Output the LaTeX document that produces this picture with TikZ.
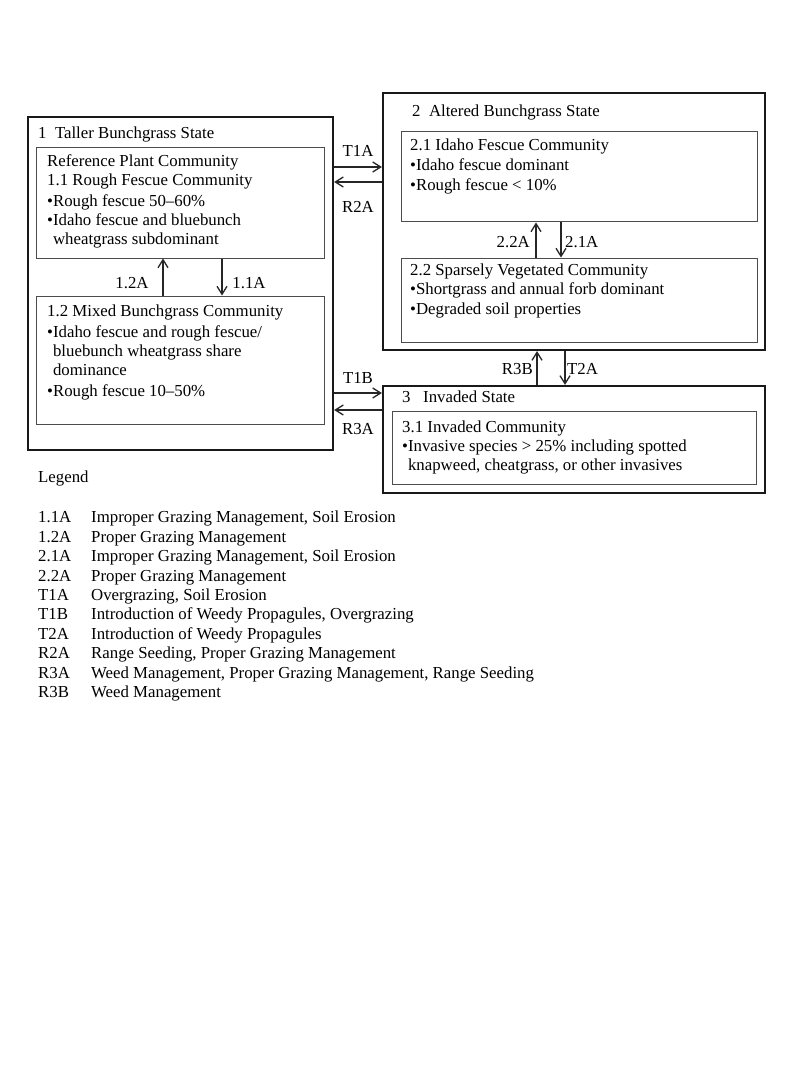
\documentclass[tikz,border=0pt]{standalone}
\usepackage{fontspec}
\setmainfont{Liberation Serif}
\usetikzlibrary{arrows.meta}
\begin{document}
\begin{tikzpicture}[x=1pt,y=-1pt,
  outerbox/.style={draw=black!90,line width=2.2pt,inner sep=0,rectangle},
  innerbox/.style={draw=black!70,line width=1pt,inner sep=0,rectangle},
  txt/.style={anchor=north west,inner sep=0,align=left,font=\fontsize{16.8}{19}\selectfont},
  lbl/.style={inner sep=0,font=\fontsize{16.8}{19.4}\selectfont},
  arr/.style={draw=black!85,-{Straight Barb[length=8pt,width=10pt]},line width=1.3pt}]
\useasboundingbox[fill=white] (0,0) rectangle (800,1067);

% boxes
\node[outerbox,minimum width=305pt,minimum height=333pt] (b1) at (180.5,283.5) {};
\node[innerbox,minimum width=288pt,minimum height=110pt] (b11) at (180,203) {};
\node[innerbox,minimum width=288pt,minimum height=128pt] (b12) at (180,360) {};
\node[outerbox,minimum width=382pt,minimum height=257pt] (b2) at (574,221.5) {};
\node[innerbox,minimum width=356pt,minimum height=90pt] (b21) at (579,177) {};
\node[innerbox,minimum width=356pt,minimum height=84pt] (b22) at (579,300) {};
\node[outerbox,minimum width=382pt,minimum height=107pt] (b3) at (574,439.5) {};
\node[innerbox,minimum width=364pt,minimum height=73pt] (b31) at (574,447.5) {};

% titles
\node[lbl,anchor=west] (t1) at (38,134) {1\ \ Taller Bunchgrass State};
\node[lbl,anchor=west] (t2) at (412,112) {2\ \ Altered Bunchgrass State};
\node[lbl,anchor=west] (t3) at (402,397) {3\ \ \ Invaded State};

% box texts
\node[txt] (x11) at (47,154) {Reference Plant Community\\
1.1 Rough Fescue Community\\[2pt]
•Rough fescue 50–60\%\\
•Idaho fescue and bluebunch\\
\hphantom{•}wheatgrass subdominant};
\node[txt] (x12) at (47,305) {1.2 Mixed Bunchgrass Community\\[2pt]
•Idaho fescue and rough fescue/\\
\hphantom{•}bluebunch wheatgrass share\\
\hphantom{•}dominance\\[2pt]
•Rough fescue 10–50\%};
\node[txt] (x21) at (410,139) {2.1 Idaho Fescue Community\\[1pt]
•Idaho fescue dominant\\[1pt]
•Rough fescue < 10\%};
\node[txt] (x22) at (410,264) {2.2 Sparsely Vegetated Community\\
•Shortgrass and annual forb dominant\\[1pt]
•Degraded soil properties};
\node[txt] (x31) at (402,421) {3.1 Invaded Community\\
•Invasive species > 25\% including spotted\\
\hphantom{•}knapweed, cheatgrass, or other invasives};

% helper coordinates
\coordinate (v1u) at (163,0);
\coordinate (v1d) at (222,0);
\coordinate (v2u) at (536,0);
\coordinate (v2d) at (561,0);
\coordinate (v3u) at (537,0);
\coordinate (v3d) at (565,0);
\coordinate (hT1A) at (0,167);
\coordinate (hR2A) at (0,182);
\coordinate (hT1B) at (0,393);
\coordinate (hR3A) at (0,410);

% arrows
\draw[arr] (b12.north -| v1u) -- (b11.south -| v1u);
\draw[arr] (b11.south -| v1d) -- (b12.north -| v1d);
\draw[arr] (b22.north -| v2u) -- (b21.south -| v2u);
\draw[arr] (b21.south -| v2d) -- (b22.north -| v2d);
\draw[arr] (b3.north -| v3u) -- (b2.south -| v3u);
\draw[arr] (b2.south -| v3d) -- (b3.north -| v3d);
\draw[arr] (b1.east |- hT1A) -- (b2.west |- hT1A);
\draw[arr] (b2.west |- hR2A) -- (b1.east |- hR2A);
\draw[arr] (b1.east |- hT1B) -- (b3.west |- hT1B);
\draw[arr] (b3.west |- hR3A) -- (b1.east |- hR3A);

% arrow labels
\node[lbl] (l12A) at (132,283) {1.2A};
\node[lbl] (l11A) at (249,283) {1.1A};
\node[lbl,anchor=east] (l22A) at (530,242) {2.2A};
\node[lbl,anchor=west] (l21A) at (565,242) {2.1A};
\node[lbl,anchor=east] (lR3B) at (533,369) {R3B};
\node[lbl,anchor=west] (lT2A) at (567,369) {T2A};
\node[lbl] (lT1A) at (358,151) {T1A};
\node[lbl] (lR2A) at (358,207) {R2A};
\node[lbl] (lT1B) at (358,378) {T1B};
\node[lbl] (lR3A) at (358,429) {R3A};

% legend
\node[lbl,anchor=west] (leg) at (38,478) {Legend};
\node[txt,font=\fontsize{16.8}{19.4}\selectfont] (legtab) at (38,511) {%
\makebox[53pt][l]{1.1A}Improper Grazing Management, Soil Erosion\\
\makebox[53pt][l]{1.2A}Proper Grazing Management\\
\makebox[53pt][l]{2.1A}Improper Grazing Management, Soil Erosion\\
\makebox[53pt][l]{2.2A}Proper Grazing Management\\
\makebox[53pt][l]{T1A}Overgrazing, Soil Erosion\\
\makebox[53pt][l]{T1B}Introduction of Weedy Propagules, Overgrazing\\
\makebox[53pt][l]{T2A}Introduction of Weedy Propagules\\
\makebox[53pt][l]{R2A}Range Seeding, Proper Grazing Management\\
\makebox[53pt][l]{R3A}Weed Management, Proper Grazing Management, Range Seeding\\
\makebox[53pt][l]{R3B}Weed Management};
\end{tikzpicture}
\end{document}
